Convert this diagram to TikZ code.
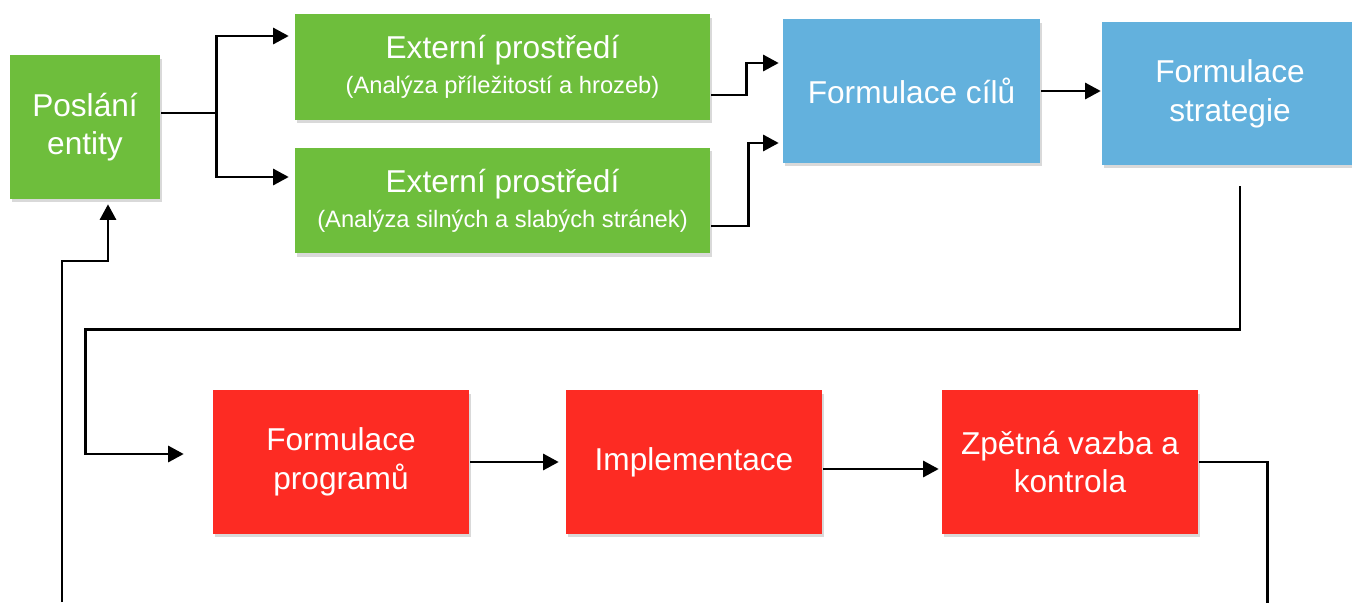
\documentclass[tikz,border=0pt]{standalone}
\usepackage{fontspec}
\setmainfont{Liberation Sans}
\usetikzlibrary{arrows.meta,shadows}

\definecolor{zelena}{HTML}{6EBE3C}
\definecolor{modra}{HTML}{63B1DD}
\definecolor{cervena}{HTML}{FD2B23}

\begin{document}
\begin{tikzpicture}[x=0.02cm,y=-0.02cm,line width=1.5pt,
                    >={Triangle[length=0.31cm,width=0.32cm]},
                    box/.style={draw=none,text=white,align=center,inner sep=0pt,
                      font=\fontsize{18}{22}\selectfont,
                      drop shadow={opacity=0.3,shadow xshift=0.04cm,shadow yshift=-0.07cm}}]
  % \tikzstyle{every node}=[font=\large]
  \useasboundingbox (0,0) rectangle (1352,602);

  \node[box,fill=zelena,minimum width=3cm,minimum height=2.88cm]     (poslani)   at (85,127)    {Poslání\\entity};
  \node[box,fill=zelena,minimum width=8.3cm,minimum height=2.12cm]   (ext1)      at (502.5,67)  {Externí prostředí\\[-2pt]{\fontsize{13.5}{16}\selectfont(Analýza příležitostí a hrozeb)}};
  \node[box,fill=zelena,minimum width=8.3cm,minimum height=2.12cm]   (ext2)      at (502.5,200.5) {Externí prostředí\\[-2pt]{\fontsize{13.5}{16}\selectfont(Analýza silných a slabých stránek)}};
  \node[box,fill=modra,minimum width=5.14cm,minimum height=2.88cm]   (cile)      at (911.5,91)  {Formulace cílů};
  \node[box,fill=modra,minimum width=5.12cm,minimum height=2.86cm]   (strategie) at (1230,93.5) {Formulace\\strategie};
  \node[box,fill=cervena,minimum width=5.12cm,minimum height=2.88cm] (program)   at (341,462)   {Formulace\\programů};
  \node[box,fill=cervena,minimum width=5.12cm,minimum height=2.88cm] (impl)      at (694,462)   {Implementace};
  \node[box,fill=cervena,minimum width=5.12cm,minimum height=2.88cm] (zpetna)    at (1070,462)  {Zpětná vazba a\\kontrola};

  \coordinate (dolL) at (62,602);
  \coordinate (dolR) at (1266,602);

  \draw ([yshift=0.28cm]poslani.east) -- ++(55,0) coordinate (split);
  \draw[->,shorten >=0.1cm] (split) |- ([yshift=0.62cm]ext1.west);
  \draw[->,shorten >=0.1cm] (split) |- ([yshift=0.47cm]ext2.west);

  \draw[->,shorten >=0.06cm] ([yshift=-0.56cm]ext1.east) -- ++(35,0) |- ([yshift=0.56cm]cile.west);
  \draw[->,shorten >=0.06cm] ([yshift=-0.51cm]ext2.east) -- ++(37,0) |- ([yshift=-1.04cm]cile.west);
  \draw[->] (cile.east) -- (cile.east -| strategie.west);

  \draw[->] ([xshift=0.2cm,yshift=-0.4cm]strategie.south) -- ++(0,143)
            -| ([xshift=-2.52cm,yshift=0.16cm]program.west)
            -- ([xshift=-0.56cm,yshift=0.16cm]program.west);
  \draw[->,shorten >=0.12cm] (program) -- (impl);
  \draw[->,shorten >=0.04cm] ([yshift=-0.14cm]impl.east) -- ([yshift=-0.14cm]zpetna.west);

  \draw (zpetna.east) -- ++(68,0) |- (dolR);
  \draw[->,shorten >=0.08cm] (dolL) -- ++(0,-341) -| ([xshift=0.46cm]poslani.south);
\end{tikzpicture}
\end{document}
